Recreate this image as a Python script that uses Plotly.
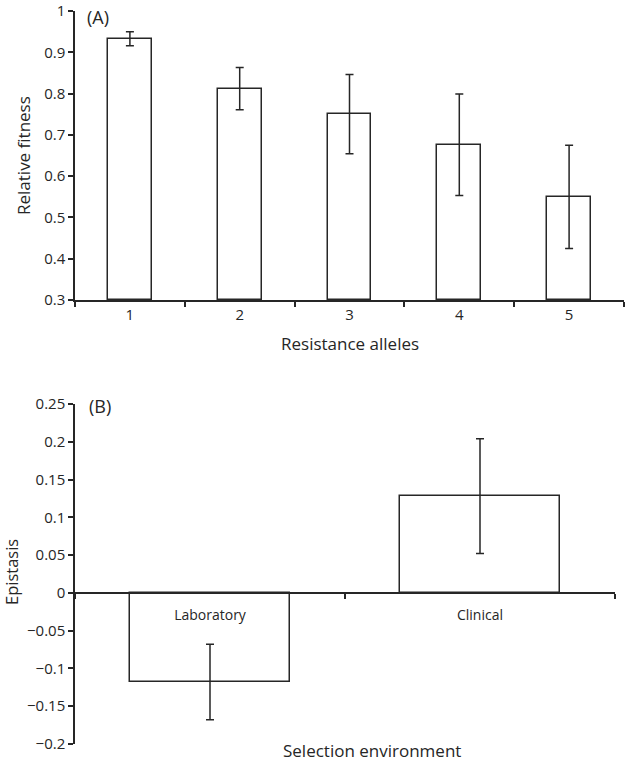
import plotly.graph_objects as go

# ---- data ----
alleles = ["1", "2", "3", "4", "5"]
fitness = [0.933, 0.812, 0.750, 0.676, 0.550]
fitness_err = [0.017, 0.051, 0.096, 0.123, 0.125]

environments = ["Laboratory", "Clinical"]
epistasis = [-0.118, 0.128]
epistasis_err = [0.050, 0.076]

yA_ticks = [0.3, 0.4, 0.5, 0.6, 0.7, 0.8, 0.9, 1.0]
yA_labels = ["0.3", "0.4", "0.5", "0.6", "0.7", "0.8", "0.9", "1"]
yB_ticks = [-0.2, -0.15, -0.1, -0.05, 0, 0.05, 0.1, 0.15, 0.2, 0.25]
yB_labels = ["−0.2", "−0.15", "−0.1", "−0.05", "0", "0.05", "0.1", "0.15", "0.2", "0.25"]

W, H = 628, 764
ML, MR, MT, MB = 75, 4, 8, 20
PW, PH = W - ML - MR, H - MT - MB

def px_x(x):
    return (x - ML) / PW

def px_y(y):
    return 1 - (y - MT) / PH

FONT = "Open Sans"
INK = "#262626"
BASE_A = 0.3

fig = go.Figure()

fig.add_trace(go.Bar(
    x=alleles, y=[v - BASE_A for v in fitness], base=BASE_A, width=0.4,
    marker=dict(color="white", line=dict(color=INK, width=1.5)),
    error_y=dict(type="data", array=fitness_err, color=INK, thickness=1.5, width=4),
    xaxis="x", yaxis="y", showlegend=False, hoverinfo="skip",
))

fig.add_trace(go.Bar(
    x=environments, y=epistasis, width=0.59,
    marker=dict(color="white", line=dict(color=INK, width=1.5)),
    error_y=dict(type="data", array=epistasis_err, color=INK, thickness=1.5, width=4),
    xaxis="x2", yaxis="y2", showlegend=False, hoverinfo="skip",
))

yA = [px_y(300), px_y(11)]
yB = [px_y(744), px_y(404)]
B_range = [-0.2, 0.25]
zero_pos = yB[0] + (0 - B_range[0]) / (B_range[1] - B_range[0]) * (yB[1] - yB[0])

tickfont = dict(family=FONT, size=15, color=INK)

fig.update_layout(
    width=W, height=H,
    margin=dict(l=ML, r=MR, t=MT, b=MB),
    paper_bgcolor="white", plot_bgcolor="white",
    font=dict(family=FONT, color=INK),
    bargap=0,
    xaxis=dict(domain=[px_x(75), px_x(624)], anchor="y", range=[-0.5, 4.5],
               type="category", showline=True, linecolor=INK, linewidth=1.5,
               ticks="outside", tickson="boundaries", ticklen=5, tickcolor=INK,
               tickwidth=1.5, tickfont=tickfont, showgrid=False, zeroline=False,
               automargin=False),
    yaxis=dict(domain=yA, anchor="x", range=[0.3, 1.0],
               tickvals=yA_ticks, ticktext=yA_labels, ticklabeloverflow="allow",
               showline=True, linecolor=INK, linewidth=1.5,
               ticks="outside", ticklen=5, tickcolor=INK, tickwidth=1.5,
               tickfont=tickfont, showgrid=False, zeroline=False, automargin=False),
    xaxis2=dict(domain=[px_x(75), px_x(615)], anchor="free", position=zero_pos,
                range=[-0.5, 1.5], type="category", showline=True, linecolor=INK,
                linewidth=1.5, ticks="outside", tickson="boundaries", ticklen=5,
                tickcolor=INK, tickwidth=1.5,
                tickfont=dict(family=FONT, size=14, color=INK),
                ticklabelstandoff=10,
                showgrid=False, zeroline=False, automargin=False),
    yaxis2=dict(domain=yB, anchor="x2", range=B_range,
                tickvals=yB_ticks, ticktext=yB_labels, ticklabeloverflow="allow",
                showline=True, linecolor=INK, linewidth=1.5,
                ticks="outside", ticklen=5, tickcolor=INK, tickwidth=1.5,
                tickfont=tickfont, showgrid=False, zeroline=False, automargin=False),
)

def ann(text, x, y, size, angle=0, xanchor="center"):
    fig.add_annotation(text=text, x=px_x(x), y=px_y(y), xref="paper", yref="paper",
                       showarrow=False, textangle=angle, xanchor=xanchor, yanchor="middle",
                       font=dict(family=FONT, size=size, color=INK), borderpad=0)

ann("(A)", 86, 17, 18, xanchor="left")
ann("(B)", 88, 406, 18, xanchor="left")
ann("Relative fitness", 23, 156, 17, angle=-90)
ann("Epistasis", 11, 572, 16.5, angle=-90)
ann("Resistance alleles", 350, 343, 17)
ann("Selection environment", 372, 751, 17)

fig.write_html("out.html", config={"displayModeBar": False},
               post_script="document.body.style.margin='0px';")
